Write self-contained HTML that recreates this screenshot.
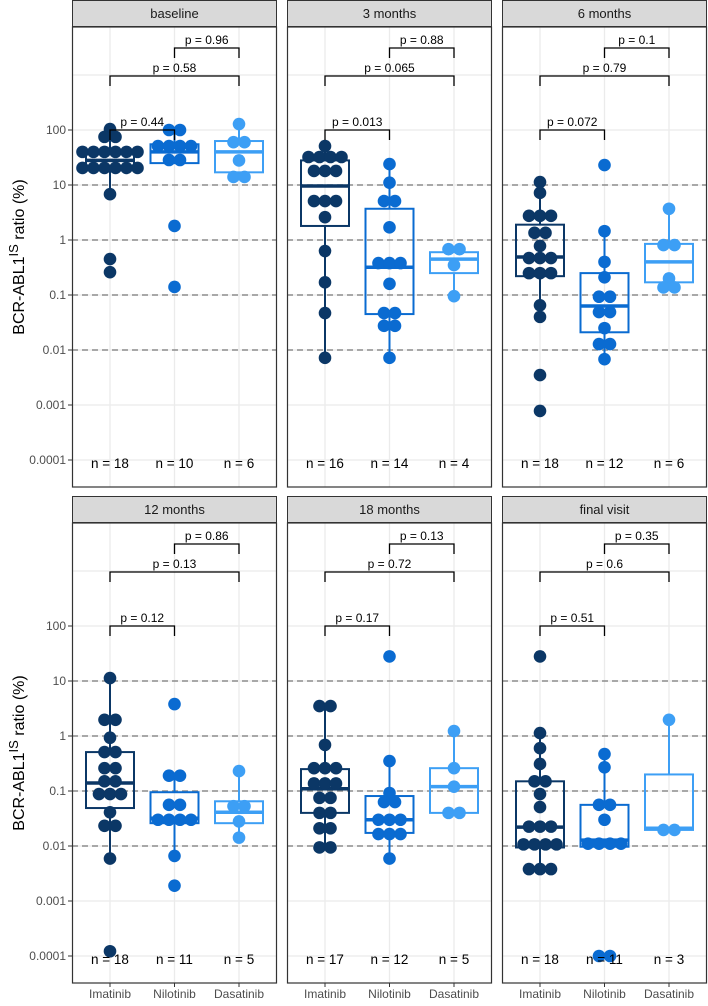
<!DOCTYPE html>
<html><head><meta charset="utf-8"><style>
body{margin:0;background:#fff;}
svg text{font-family:"Liberation Sans",Arial,sans-serif;}
</style></head><body>
<svg id="chart" width="708" height="1001" viewBox="0 0 708 1001" xmlns="http://www.w3.org/2000/svg"></svg>
<script>
const panelTitles = ["baseline","3 months","6 months","12 months","18 months","final visit"];
const groups = ["Imatinib","Nilotinib","Dasatinib"];
const colors = ["#0b3766","#0a6bd1","#3d9ff5"];
const yTickLabels = ["100","10","1","0.1","0.01","0.001","0.0001"];
const yTickValues = [100,10,1,0.1,0.01,0.001,0.0001];
const dashedValues = [10,1,0.1,0.01];
const pvals = [
 ["0.44","0.58","0.96"],["0.013","0.065","0.88"],["0.072","0.79","0.1"],
 ["0.12","0.13","0.86"],["0.17","0.72","0.13"],["0.51","0.6","0.35"]];
const nCounts = [[18,10,6],[16,14,4],[18,12,6],[18,11,5],[17,12,5],[18,11,3]];
// dot values [value, count]
const dots = [
 [ [[104,1],[75,2],[40,6],[20.4,6],[6.8,1],[0.45,1],[0.26,1]],
   [[100,2],[51,4],[28.5,2],[1.8,1],[0.14,1]],
   [[128,1],[60,2],[28,1],[14,2]] ],
 [ [[51,1],[32.3,4],[18,3],[5.1,3],[2.6,1],[0.63,1],[0.17,1],[0.047,1],[0.0072,1]],
   [[24,1],[11,1],[5.1,2],[1.7,1],[0.38,3],[0.16,1],[0.047,2],[0.0275,2],[0.0072,1]],
   [[0.68,2],[0.35,1],[0.095,1]] ],
 [ [[11.3,1],[7.2,1],[2.75,3],[1.35,2],[0.78,1],[0.47,3],[0.25,3],[0.065,1],[0.04,1],[0.0035,1],[0.00078,1]],
   [[23,1],[1.45,1],[0.4,1],[0.21,1],[0.093,2],[0.049,2],[0.025,1],[0.0128,2],[0.0068,1]],
   [[3.7,1],[0.81,2],[0.2,1],[0.137,2]] ],
 [ [[11.3,1],[1.97,2],[0.93,1],[0.51,2],[0.26,2],[0.15,2],[0.088,3],[0.041,1],[0.0233,2],[0.0059,1],[0.000122,1]],
   [[3.8,1],[0.19,2],[0.056,2],[0.03,4],[0.0066,1],[0.0019,1]],
   [[0.23,1],[0.053,2],[0.028,1],[0.0142,1]] ],
 [ [[3.5,2],[0.69,1],[0.26,3],[0.137,3],[0.075,2],[0.04,2],[0.021,2],[0.0094,2]],
   [[28,1],[0.35,1],[0.092,1],[0.063,2],[0.03,3],[0.0165,3],[0.0059,1]],
   [[1.23,1],[0.26,1],[0.12,1],[0.04,2]] ],
 [ [[28,1],[1.13,1],[0.6,1],[0.31,1],[0.15,2],[0.088,1],[0.051,1],[0.0225,3],[0.0107,4],[0.0038,3]],
   [[0.47,1],[0.27,1],[0.056,2],[0.03,1],[0.011,4],[0.0001,2]],
   [[1.97,1],[0.0196,2]] ]
];
// box stats [whiskerLow, q1, median, q3, whiskerHigh]
const boxes = [
 [[6.8,20,28,40,104],[25,25,40,55,100],[14,17,40,63,128]],
 [[0.0072,1.8,9.6,28,51],[0.0072,0.045,0.32,3.7,24],[0.095,0.25,0.45,0.6,0.68]],
 [[0.04,0.22,0.49,1.9,11.3],[0.0068,0.021,0.063,0.25,1.45],[0.137,0.17,0.4,0.85,3.7]],
 [[0.0059,0.049,0.14,0.51,11.3],[0.0066,0.026,0.032,0.095,0.19],[0.0142,0.026,0.041,0.065,0.23]],
 [[0.0094,0.04,0.11,0.25,3.5],[0.0059,0.0173,0.03,0.081,0.35],[0.04,0.04,0.12,0.26,1.23]],
 [[0.0038,0.0094,0.022,0.15,1.13],[0.0097,0.0097,0.0128,0.056,0.47],[0.0196,0.0196,0.021,0.2,1.97]]
];

const NS="http://www.w3.org/2000/svg";
const svg=document.getElementById('chart');
function mk(tag,attrs,parent){const e=document.createElementNS(NS,tag);for(const k in attrs)e.setAttribute(k,attrs[k]);(parent||svg).appendChild(e);return e;}
const panelLefts=[72,287,502], panelW=205;
const rowTops=[0,496], stripH=27, plotH=460;
function yScale(row,v){return 130+rowTops[row]-(Math.log10(v)-2)*55;}
function xScale(col,g){return panelLefts[col]+38+g*64.5;}

for(let r=0;r<2;r++){
  const cy=rowTops[r]+stripH+plotH/2;
  const t=mk('text',{x:0,y:0,transform:`translate(24,${cy}) rotate(-90)`,'text-anchor':'middle','font-size':16,fill:'#000'});
  
  
  t.innerHTML='BCR-ABL1<tspan dy="-6" font-size="13">IS</tspan><tspan dy="6"> ratio (%)</tspan>';
  yTickValues.forEach((v,i)=>{
    const y=yScale(r,v);
    const lab=mk('text',{x:66,y:y+4,'text-anchor':'end','font-size':12,fill:'#4d4d4d'});
    
    
    lab.textContent=yTickLabels[i];
    mk('line',{x1:68,x2:72,y1:y,y2:y,stroke:'#333','stroke-width':1});
  });
}

for(let p=0;p<6;p++){
  const r=Math.floor(p/3), c=p%3;
  const L=panelLefts[c], T=rowTops[r];
  const g=mk('g',{});
  
  
  const strip=mk('rect',{x:L+0.5,y:T+0.5,width:panelW-1,height:stripH-1,fill:'#d9d9d9',stroke:'#333','stroke-width':1},g);
  
  
  const st=mk('text',{x:L+panelW/2,y:T+18,'text-anchor':'middle','font-size':13,fill:'#1a1a1a'},g);
  
  
  st.textContent=panelTitles[p];
  const pt=T+stripH, pb=pt+plotH;
  [1000].concat(yTickValues).forEach(v=>{const y=yScale(r,v);mk('line',{x1:L,x2:L+panelW,y1:y,y2:y,stroke:'#ebebeb','stroke-width':1.3},g);});
  for(let k=0;k<3;k++){const x=xScale(c,k);mk('line',{x1:x,x2:x,y1:pt,y2:pb,stroke:'#ebebeb','stroke-width':1.3},g);}
  dashedValues.forEach(v=>{const y=yScale(r,v);const d=mk('line',{x1:L,x2:L+panelW,y1:y,y2:y,stroke:'#8c8c8c','stroke-width':1.5,'stroke-dasharray':'6,4'},g);
    
    });
  for(let k=0;k<3;k++){
    const b=boxes[p][k], x=xScale(c,k), col=colors[k];
    const bg=mk('g',{},g);
    
    
    mk('line',{x1:x,x2:x,y1:yScale(r,b[4]),y2:yScale(r,b[3]),stroke:col,'stroke-width':2},bg);
    mk('line',{x1:x,x2:x,y1:yScale(r,b[1]),y2:yScale(r,b[0]),stroke:col,'stroke-width':2},bg);
    mk('rect',{x:x-24,y:yScale(r,b[3]),width:48,height:yScale(r,b[1])-yScale(r,b[3]),fill:'none',stroke:col,'stroke-width':2},bg);
    mk('line',{x1:x-24,x2:x+24,y1:yScale(r,b[2]),y2:yScale(r,b[2]),stroke:col,'stroke-width':3.5},bg);
    dots[p][k].forEach(([v,cnt])=>{
      const y=yScale(r,v);
      for(let i=0;i<cnt;i++){
        const dx=(i-(cnt-1)/2)*11;
        const d=mk('circle',{cx:x+dx,cy:y,r:6.3,fill:col},bg);
        
        
      }
    });
    const nt=mk('text',{x:x,y:T+468,'text-anchor':'middle','font-size':13.5,fill:'#000'},g);
    
    
    nt.textContent='n = '+nCounts[p][k];
  }
  const br=[[0,1,T+130],[0,2,T+76],[1,2,T+48]];
  br.forEach(([a,bb,y],i)=>{
    const x1=xScale(c,a),x2=xScale(c,bb);
    const bk=mk('path',{d:`M${x1},${y+10}V${y}H${x2}V${y+10}`,fill:'none',stroke:'#000','stroke-width':1.3},g);
    
    
    const tt=mk('text',{x:(x1+x2)/2,y:y-4,'text-anchor':'middle','font-size':12,fill:'#000'},g);
    
    
    tt.textContent='p = '+pvals[p][i];
  });
  const fr=mk('rect',{x:L+0.5,y:pt,width:panelW-1,height:plotH,fill:'none',stroke:'#333','stroke-width':1.2},g);
  
  
  if(r===1){
    for(let k=0;k<3;k++){
      const x=xScale(c,k);
      mk('line',{x1:x,x2:x,y1:pb,y2:pb+4,stroke:'#333'},g);
      const xl=mk('text',{x:x,y:pb+15,'text-anchor':'middle','font-size':12,fill:'#4d4d4d'},g);
      
      
      xl.textContent=groups[k];
    }
  }
}
</script>
</body></html>
